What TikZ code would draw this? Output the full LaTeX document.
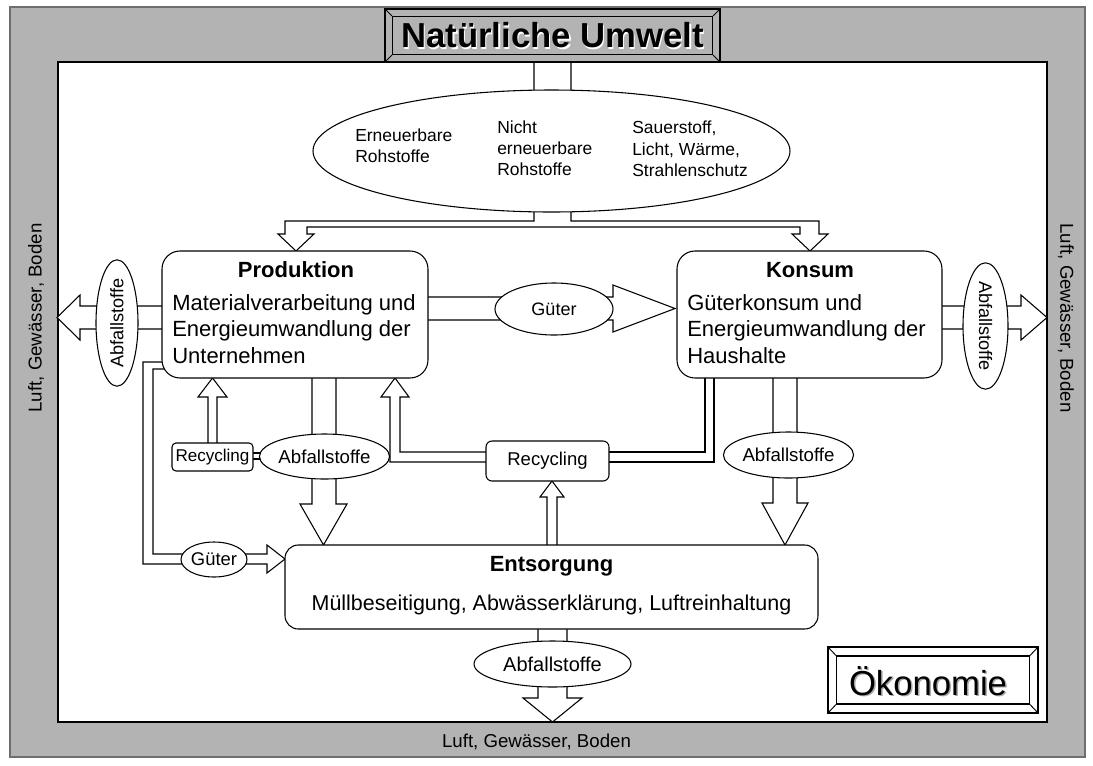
\documentclass[tikz,border=0pt]{standalone}
\usepackage{fontspec}
\setmainfont{Liberation Sans}
\usetikzlibrary{shapes.geometric}
\definecolor{framegray}{RGB}{179,179,179}
\definecolor{shadowgray}{RGB}{110,110,110}
\newcommand{\fsz}[2]{\fontsize{#1}{#2}\selectfont}
\tikzset{
  blk/.style={draw=black, fill=white, line width=0.8pt, line join=miter},
  rbox/.style={draw=black, fill=white, line width=0.8pt, inner sep=0pt},
  ell/.style={ellipse, draw=black, fill=white, line width=0.8pt, inner sep=0pt},
  bev/.style={draw=black, line width=0.8pt, inner sep=0pt},
  lbl/.style={inner sep=0pt},
}
\begin{document}
\begin{tikzpicture}[x=0.75pt,y=-0.75pt]
\useasboundingbox (0,0) rectangle (1093,765);
% frame
\draw[fill=framegray, draw=shadowgray, line width=1pt] (10,7) rectangle (1085,757);
\draw[fill=white, draw=black, line width=1.1pt] (58,62) rectangle (1047,722);

% hollow block arrows (drawn below the nodes)
\draw[blk] (534,62) -- (534,221) -- (285,221) -- (285,234) -- (278,234) -- (296,251) -- (314,234) -- (307,234) -- (307,227) -- (800,227) -- (800,234) -- (792,234) -- (810,251) -- (828,234) -- (819,234) -- (819,221) -- (571,221) -- (571,62) -- cycle;
\draw[blk] (420,297) -- (613,297) -- (613,285) -- (675,308.5) -- (613,332) -- (613,320) -- (420,320) -- cycle;
\draw[blk] (170,306) -- (80,306) -- (80,295) -- (57,317.5) -- (80,340) -- (80,329) -- (170,329) -- cycle;
\draw[blk] (935,306) -- (1021,306) -- (1021,295) -- (1047,317.5) -- (1021,340) -- (1021,329) -- (935,329) -- cycle;
\draw[blk] (312,370) -- (312,504) -- (300,504) -- (323.5,545) -- (347,504) -- (336,504) -- (336,370) -- cycle;
\draw[blk] (773,370) -- (773,503) -- (762,503) -- (785,545) -- (808,503) -- (797,503) -- (797,370) -- cycle;
\draw[blk] (538,620) -- (538,698) -- (523,698) -- (552.5,722) -- (582,698) -- (567,698) -- (567,620) -- cycle;
\draw[blk] (547,552) -- (547,497) -- (540,497) -- (552,481) -- (564,497) -- (557,497) -- (557,552) -- cycle;
\draw[blk] (490,462) -- (390,462) -- (390,397) -- (381,397) -- (395,378) -- (409,397) -- (400,397) -- (400,452) -- (490,452) -- cycle;
\draw[blk] (605,452) -- (705,452) -- (705,372) -- (714,372) -- (714,462) -- (605,462) -- cycle;
\draw[blk] (208,450) -- (208,397) -- (198,397) -- (212.5,378) -- (227,397) -- (217,397) -- (217,450) -- cycle;
\draw[blk] (245,453) -- (280,453) -- (280,459) -- (245,459) -- cycle;
\draw[blk] (175,362) -- (143,362) -- (143,564) -- (267,564) -- (267,573) -- (285,559) -- (267,545) -- (267,554) -- (153,554) -- (153,369) -- (175,369) -- cycle;

% boxes
\node[rbox, rounded corners=13.5pt, minimum width=199.5pt, minimum height=95.25pt] (prod) at (295,314.5) {};
\node[rbox, rounded corners=13.5pt, minimum width=198.75pt, minimum height=95.25pt] (kons) at (809.5,314.5) {};
\node[rbox, rounded corners=10pt, minimum width=399.75pt, minimum height=63pt] (ents) at (551.5,587) {};
\node[rbox, rounded corners=4.5pt, minimum width=92.25pt, minimum height=30pt, font=\fsz{13.9pt}{16pt}] (rec) at (547.5,461) {Recycling};
\node[rbox, rounded corners=3pt, minimum width=60.75pt, minimum height=21pt, font=\fsz{12.8pt}{15pt}] (recs) at (212.5,457) {Recycling};

% ellipses
\node[ell, minimum width=357.75pt, minimum height=91.5pt] (res) at (551.5,151) {};
\node[ell, minimum width=88.5pt, minimum height=39pt, font=\fsz{13.5pt}{16pt}] (gm) at (554,309) {Güter};
\node[ell, minimum width=49.5pt, minimum height=26.25pt, font=\fsz{13.8pt}{16pt}] (gb) at (214,559.5) {Güter};
\node[ell, rotate=90, minimum width=88.5pt, minimum height=31.5pt, font=\fsz{13.6pt}{16pt}] (al) at (117,323) {Abfallstoffe};
\node[ell, rotate=-90, minimum width=91.5pt, minimum height=33.75pt, font=\fsz{13.6pt}{16pt}] (ar) at (985.5,326) {Abfallstoffe};
\node[ell, minimum width=86.25pt, minimum height=33.75pt, font=\fsz{14pt}{16pt}] (ap) at (324.5,456.5) {Abfallstoffe};
\node[ell, minimum width=86.25pt, minimum height=34.5pt, font=\fsz{14pt}{16pt}] (ak) at (788.5,455) {Abfallstoffe};
\node[ell, minimum width=117.75pt, minimum height=34.5pt, font=\fsz{15pt}{17pt}] (ab) at (552.5,664) {Abfallstoffe};

% texts in resource ellipse
\node[lbl, anchor=west, align=left, font=\fsz{13.1pt}{15.75pt}] (r1) at (355,145.5) {Erneuerbare\\Rohstoffe};
\node[lbl, anchor=west, align=left, font=\fsz{13.1pt}{15.75pt}] (r2) at (497,148) {Nicht\\erneuerbare\\Rohstoffe};
\node[lbl, anchor=west, align=left, font=\fsz{13.1pt}{16pt}] (r3) at (632,149) {Sauerstoff,\\Licht, Wärme,\\Strahlenschutz};

% texts in boxes
\node[lbl, font=\bfseries\fsz{16.5pt}{19pt}] (prodT) at (296,270) {Produktion};
\node[lbl, anchor=west, align=left, font=\fsz{16.5pt}{20pt}] (prodB) at (172,329) {Materialverarbeitung und\\Energieumwandlung der\\Unternehmen};
\node[lbl, font=\bfseries\fsz{16.5pt}{19pt}] (konsT) at (810,270) {Konsum};
\node[lbl, anchor=west, align=left, font=\fsz{16.5pt}{20pt}] (konsB) at (687,329) {Güterkonsum und\\Energieumwandlung der\\Haushalte};
\node[lbl, font=\bfseries\fsz{16.5pt}{19pt}] (entsT) at (551.5,566) {Entsorgung};
\node[lbl, font=\fsz{16.1pt}{19pt}] (entsB) at (551.5,605) {Müllbeseitigung, Abwässerklärung, Luftreinhaltung};

% side labels
\node[lbl, rotate=90, font=\fsz{14pt}{16pt}] (sl) at (36,318) {Luft, Gewässer, Boden};
\node[lbl, rotate=-90, font=\fsz{14pt}{16pt}] (sr) at (1066,318) {Luft, Gewässer, Boden};
\node[lbl, font=\fsz{14pt}{16pt}] (sb) at (536.5,742) {Luft, Gewässer, Boden};

% title bevel box
\node[bev, fill=framegray, minimum width=251.25pt, minimum height=39.75pt] (titleo) at (552.5,35.5) {};
\node[bev, fill=framegray, minimum width=240pt, minimum height=28.5pt] (titlei) at (552.5,35.5) {};
\draw[line width=0.7pt] (titleo.north west) -- (titlei.north west) (titleo.north east) -- (titlei.north east)
  (titleo.south west) -- (titlei.south west) (titleo.south east) -- (titlei.south east);
\node[lbl, text=white, font=\bfseries\fsz{26pt}{30pt}] (titlesh) at (554,37) {Natürliche Umwelt};
\node[lbl, font=\bfseries\fsz{26pt}{30pt}] (title) at (552.5,35.5) {Natürliche Umwelt};

% Oekonomie bevel box
\node[bev, fill=white, minimum width=157.5pt, minimum height=49.5pt] (oeko) at (933,680) {};
\node[bev, fill=white, minimum width=144.75pt, minimum height=36pt] (oekoi) at (933,680) {};
\draw[line width=0.7pt] (oeko.north west) -- (oekoi.north west) (oeko.north east) -- (oekoi.north east)
  (oeko.south west) -- (oekoi.south west) (oeko.south east) -- (oekoi.south east);
\node[lbl, text=shadowgray!60, font=\fsz{26pt}{30pt}] (oekosh) at (929.5,682.5) {Ökonomie};
\node[lbl, font=\fsz{26pt}{30pt}] (oekot) at (928,681) {Ökonomie};
\end{tikzpicture}
\end{document}
